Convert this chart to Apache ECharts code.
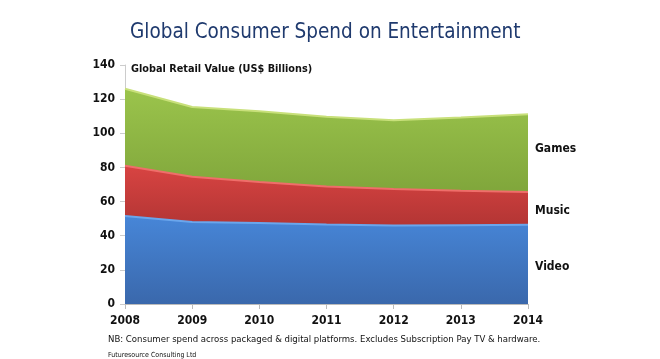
<!DOCTYPE html>
<html><head><meta charset="utf-8">
<script src="https://cdn.jsdelivr.net/npm/echarts@6/dist/echarts.min.js"></script>
<style>html,body{margin:0;padding:0;background:#fff}#c{width:660px;height:359px}</style>
</head><body><div id="c"></div>
<script>
var years = ['2008','2009','2010','2011','2012','2013','2014'];
var video = [51.6, 48.0, 47.4, 46.5, 46.0, 46.2, 46.4];
var music = [29.4, 26.6, 24.1, 22.3, 21.4, 20.2, 19.2];
var games = [45.1, 40.8, 41.4, 40.9, 40.2, 42.8, 45.5];
var seriesNames = ['Video','Music','Games'];

var FONT = '"DejaVu Sans Condensed", "DejaVu Sans", sans-serif';
var chart = echarts.init(document.getElementById('c'));
function grad(a,b){return new echarts.graphic.LinearGradient(0,0,0,1,[{offset:0,color:a},{offset:1,color:b}]);}
var lbl = {fontFamily:FONT, fontWeight:'bold', fontSize:12, color:'#111'};
chart.setOption({
  animation:false,
  title:[
    {text:'Global Consumer Spend on Entertainment', left:125, top:17,
     textStyle:{fontFamily:FONT, fontWeight:'normal', fontSize:20.5, color:'#1f3a6e'}},
    {text:'Global Retail Value (US$ Billions)', left:126, top:59,
     textStyle:{fontFamily:FONT, fontWeight:'bold', fontSize:10.8, color:'#111'}},
    {text:'NB: Consumer spend across packaged & digital platforms. Excludes Subscription Pay TV & hardware.', left:103, top:330,
     textStyle:{fontFamily:FONT, fontWeight:'normal', fontSize:9.5, color:'#111'}},
    {text:'Futuresource Consulting Ltd', left:103, top:347,
     textStyle:{fontFamily:FONT, fontWeight:'normal', fontSize:7, color:'#111'}}
  ],
  grid:{left:125, right:132, top:65, bottom:55},
  xAxis:{type:'category', data:years, boundaryGap:false,
    axisLine:{lineStyle:{color:'#bbb'}}, axisTick:{show:true, lineStyle:{color:'#bbb'}},
    axisLabel:Object.assign({margin:11}, lbl)},
  yAxis:{type:'value', min:0, max:140, interval:20,
    axisLine:{show:true, lineStyle:{color:'#ccc'}}, axisTick:{show:true, lineStyle:{color:'#ccc'}},
    splitLine:{show:false}, axisLabel:Object.assign({margin:10}, lbl)},
  series:[
    {name:seriesNames[0], type:'line', stack:'t', data:video, symbol:'none',
     lineStyle:{color:'#6aa6ec', width:2}, areaStyle:{color:grad('#4786d8','#3a68ac'), opacity:1}},
    {name:seriesNames[1], type:'line', stack:'t', data:music, symbol:'none',
     lineStyle:{color:'#ef6e6a', width:2}, areaStyle:{color:grad('#d84442','#b33534'), opacity:1}},
    {name:seriesNames[2], type:'line', stack:'t', data:games, symbol:'none',
     lineStyle:{color:'#c8e07a', width:2}, areaStyle:{color:grad('#9bc44c','#80a63b'), opacity:1}}
  ]
});
var bandMid = [video[6]/2, video[6]+music[6]/2, video[6]+music[6]+games[6]/2];
var offsets = [3, 3.5, -3];
var g = [];
for (var i=0;i<3;i++){
  var p = chart.convertToPixel({gridIndex:0}, ['2014', bandMid[i]]);
  g.push({type:'text', left:p[0]+7, top:p[1]+offsets[i]-7,
    style:{text:seriesNames[i], font:'bold 12px ' + FONT, fill:'#111'}});
}
chart.setOption({graphic:g});
</script></body></html>
